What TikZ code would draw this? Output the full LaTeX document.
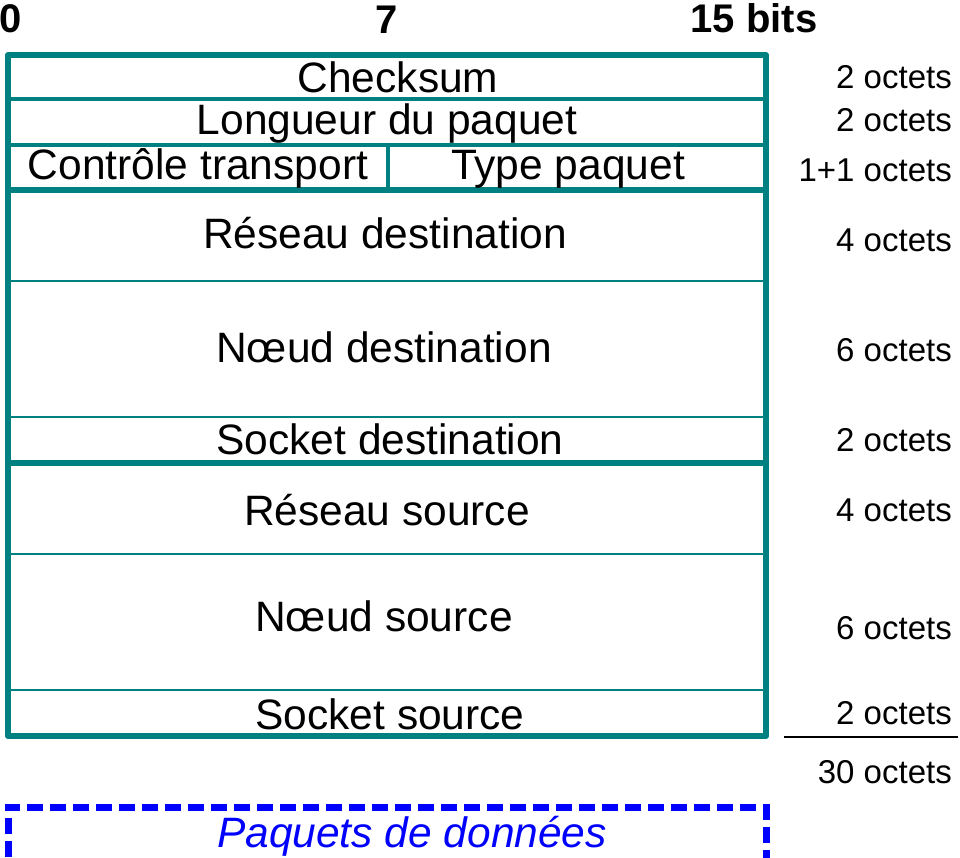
\documentclass[tikz,border=0pt]{standalone}
\usepackage{fontspec}
\setmainfont{Liberation Sans}
\definecolor{sarcelle}{RGB}{0,128,128}
\definecolor{bleu}{RGB}{0,0,255}
\tikzset{
  cadre/.style={draw=sarcelle,line width=6pt,line join=round},
  sepfort/.style={draw=sarcelle,line width=5.5pt},
  sepmoy/.style={draw=sarcelle,line width=3.5pt},
  sepfin/.style={draw=sarcelle,line width=2pt},
  champ/.style={font=\fontsize{42.5}{50}\selectfont,inner sep=0pt,anchor=base},
  taille/.style={font=\fontsize{33}{40}\selectfont,inner sep=0pt,anchor=base east},
  bit/.style={font=\fontsize{40}{48}\selectfont\bfseries,inner sep=0pt,anchor=base},
}
\begin{document}
\begin{tikzpicture}[x=1pt,y=-1pt]
\useasboundingbox (0,0) rectangle (960,857);
% numeros de bits
\node[bit] (b0) at (11,32) {0};
\node[bit] (b7) at (387,33) {7};
\node[bit] (b15) at (754,32) {15 bits};
% en-tete du paquet
\draw[cadre] (8,55) rectangle (766,736);
\draw[sepmoy] (8,99)--(766,99);
\draw[sepmoy] (8,145)--(766,145);
\draw[sepfort] (8,190)--(766,190);
\draw[sepmoy] (388,145)--(388,190);
\draw[sepfin] (8,281)--(766,281);
\draw[sepfin] (8,417)--(766,417);
\draw[sepfort] (8,463)--(766,463);
\draw[sepfin] (8,554)--(766,554);
\draw[sepfin] (8,690)--(766,690);
% champs
\node[champ] (chk) at (398,92) {Checksum};
\node[champ] (lng) at (387,134) {Longueur du paquet};
\node[champ] (ctl) at (198,179) {Contrôle transport};
\node[champ] (typ) at (568,179) {Type paquet};
\node[champ] (rdst) at (385,248) {Réseau destination};
\node[champ] (ndst) at (384,362) {Nœud destination};
\node[champ] (sdst) at (390,454) {Socket destination};
\node[champ] (rsrc) at (387,525) {Réseau source};
\node[champ] (nsrc) at (384,631) {Nœud source};
\node[champ] (ssrc) at (390,729) {Socket source};
% tailles
\node[taille] (t1) at (952,88) {2 octets};
\node[taille] (t2) at (952,131) {2 octets};
\node[taille] (t3) at (952,181) {1+1 octets};
\node[taille] (t4) at (952,251) {4 octets};
\node[taille] (t5) at (952,361) {6 octets};
\node[taille] (t6) at (952,451) {2 octets};
\node[taille] (t7) at (952,521) {4 octets};
\node[taille] (t8) at (952,639) {6 octets};
\node[taille] (t9) at (952,724) {2 octets};
\draw[line width=2.5pt] (784,737)--(958,737);
\node[taille] (tot) at (952,783) {30 octets};
% donnees
\draw[bleu,line width=7pt,dash pattern=on 16pt off 7pt] (8,880)--(8,807)--(766,807)--(766,880);
\node[champ,text=bleu,font=\fontsize{42.5}{50}\selectfont\itshape] (don) at (412,847) {Paquets de données};
\end{tikzpicture}
\end{document}
